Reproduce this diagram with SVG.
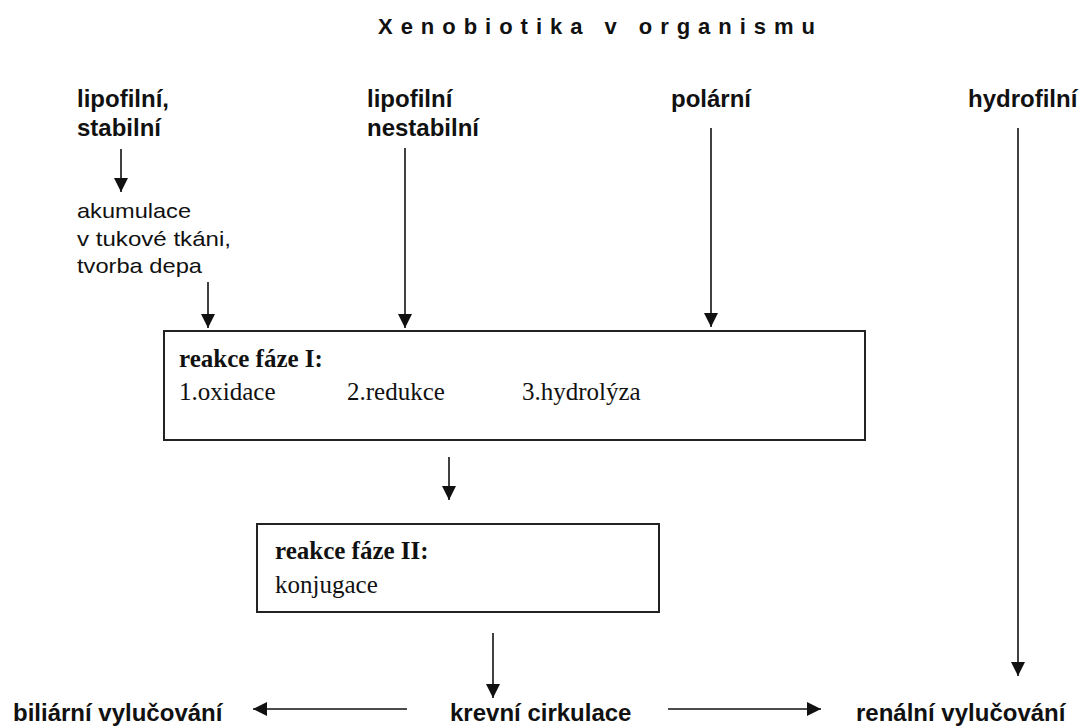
<svg xmlns="http://www.w3.org/2000/svg" width="1081" height="727" viewBox="0 0 1081 727">
  <style>
    .title { font-family: "Liberation Sans", Arial, sans-serif; font-weight: bold; font-size: 22px; fill: #111; }
    .lab { font-family: "Liberation Sans", Arial, sans-serif; font-weight: bold; font-size: 24px; fill: #111; }
    .small { font-family: "Liberation Sans", Arial, sans-serif; font-size: 21px; fill: #111; }
    .serif { font-family: "Liberation Serif", "Times New Roman", serif; font-size: 25px; fill: #111; }
    .serifb { font-family: "Liberation Serif", "Times New Roman", serif; font-size: 25px; font-weight: bold; fill: #111; }
    .box { fill: #fff; stroke: #222; stroke-width: 2; }
    .conn line { stroke: #111; stroke-width: 1.6; marker-end: url(#ah); }
  </style>
  <defs>
    <marker id="ah" markerUnits="userSpaceOnUse" markerWidth="14" markerHeight="14" viewBox="0 0 14 14" refX="14" refY="7" orient="auto">
      <path d="M0,0 L14,7 L0,14 Z" fill="#111"/>
    </marker>
  </defs>
  <rect width="1081" height="727" fill="#fff"/>

  <text class="title" x="378" y="34" textLength="437" lengthAdjust="spacing">Xenobiotika v organismu</text>

  <g id="lipofilni-stabilni">
    <text class="lab" x="77" y="107">lipofilní,</text>
    <text class="lab" x="77" y="136">stabilní</text>
  </g>
  <g id="akumulace">
    <text class="small" x="77" y="218" textLength="114" lengthAdjust="spacingAndGlyphs">akumulace</text>
    <text class="small" x="77" y="246" textLength="154" lengthAdjust="spacingAndGlyphs">v tukové tkáni,</text>
    <text class="small" x="77" y="273" textLength="125" lengthAdjust="spacingAndGlyphs">tvorba depa</text>
  </g>
  <g id="lipofilni-nestabilni">
    <text class="lab" x="367" y="107">lipofilní</text>
    <text class="lab" x="367" y="136">nestabilní</text>
  </g>
  <g id="polarni">
    <text class="lab" x="671" y="107">polární</text>
  </g>
  <g id="hydrofilni">
    <text class="lab" x="968" y="107">hydrofilní</text>
  </g>

  <g id="faze1">
    <rect class="box" x="164" y="331" width="701" height="109"/>
    <text class="serifb" x="179" y="367">reakce fáze I:</text>
    <text class="serif" x="179" y="400">1.oxidace</text>
    <text class="serif" x="347" y="400">2.redukce</text>
    <text class="serif" x="522" y="400">3.hydrolýza</text>
  </g>

  <g id="faze2">
    <rect class="box" x="257" y="524" width="402" height="88"/>
    <text class="serifb" x="275" y="559">reakce fáze II:</text>
    <text class="serif" x="275" y="593">konjugace</text>
  </g>

  <g id="biliarni">
    <text class="lab" x="13" y="721">biliární vylučování</text>
  </g>
  <g id="krevni">
    <text class="lab" x="450" y="721">krevní cirkulace</text>
  </g>
  <g id="renalni">
    <text class="lab" x="856" y="721">renální vylučování</text>
  </g>

  <g class="conn" id="connectors">
    <line x1="121" y1="149" x2="121" y2="192"/>
    <line x1="208" y1="282" x2="208" y2="328"/>
    <line x1="405" y1="148" x2="405" y2="328"/>
    <line x1="711" y1="128" x2="711" y2="327"/>
    <line x1="1018" y1="128" x2="1018" y2="676"/>
    <line x1="449" y1="457" x2="449" y2="500"/>
    <line x1="493" y1="633" x2="493" y2="698"/>
    <line x1="407" y1="709" x2="253" y2="709"/>
    <line x1="668" y1="709" x2="821" y2="709"/>
  </g>
</svg>
